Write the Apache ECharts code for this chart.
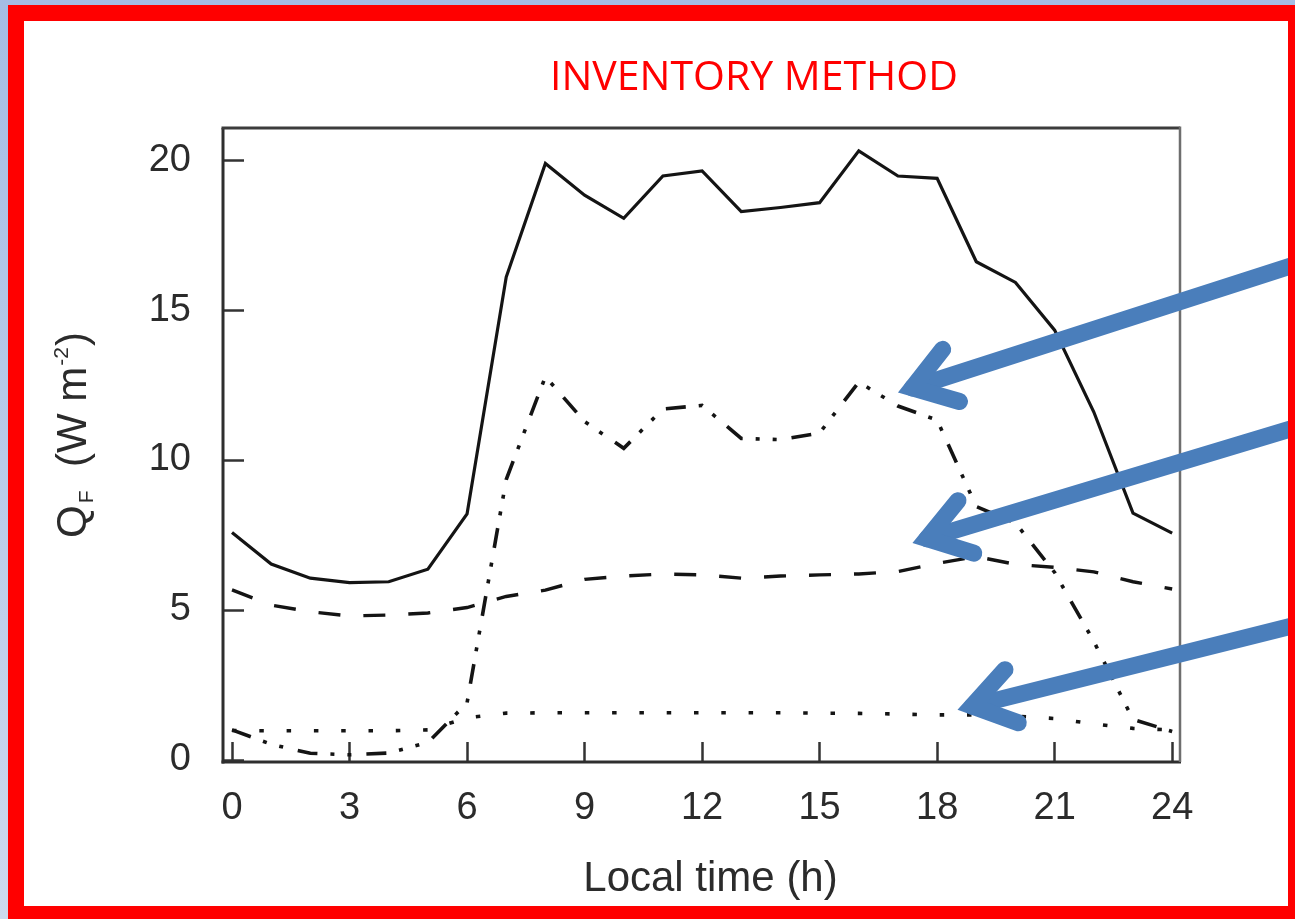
<!DOCTYPE html>
<html>
<head>
<meta charset="utf-8">
<title>Inventory method – anthropogenic heat flux</title>
<script src="https://cdn.jsdelivr.net/npm/echarts@6/dist/echarts.min.js"></script>
<style>
  html, body { margin: 0; padding: 0; width: 1295px; height: 919px; overflow: hidden;
    background: linear-gradient(to bottom, #a5bde4, #cdd9ee); }
  #sheet { position: absolute; left: 8px; top: 5px; width: 1296px; height: 917px;
    box-sizing: border-box; background: #ffffff; }
  #chart { position: absolute; left: 0; top: 0; width: 1295px; height: 919px; }
  #frame { position: absolute; left: 8px; top: 5px; width: 1296px; height: 917px;
    box-sizing: border-box; border: 16px solid #ff0000; pointer-events: none; }
</style>
</head>
<body>
<div id="sheet"></div>
<div id="chart"></div>
<div id="frame"></div>
<script>
// Local time (h)
const hours = [0, 1, 2, 3, 4, 5, 6, 7, 8, 9, 10, 11, 12, 13, 14, 15, 16, 17, 18, 19, 20, 21, 22, 23, 24];

// Q_F components (W m-2)
const qfTotal      = [7.58, 6.53, 6.06, 5.91, 5.94, 6.36, 8.20, 16.10, 19.89, 18.83, 18.06, 19.47, 19.64,
                      18.28, 18.42, 18.58, 20.31, 19.47, 19.39, 16.61, 15.92, 14.33, 11.60, 8.23, 7.56];
const qfTraffic    = [1.00, 0.52, 0.22, 0.17, 0.23, 0.58, 1.90, 9.35, 12.78, 11.28, 10.39, 11.70, 11.82,
                      10.72, 10.68, 10.90, 12.60, 11.80, 11.33, 8.45, 7.90, 6.25, 3.95, 1.35, 0.95];
const qfBuildings  = [5.67, 5.16, 4.94, 4.80, 4.83, 4.90, 5.08, 5.45, 5.66, 6.02, 6.13, 6.20, 6.17,
                      6.06, 6.13, 6.17, 6.20, 6.28, 6.55, 6.78, 6.52, 6.42, 6.27, 5.94, 5.70];
const qfMetabolism = [0.98, 0.97, 0.97, 0.97, 0.97, 1.00, 1.40, 1.56, 1.57, 1.57, 1.57, 1.57, 1.57,
                      1.57, 1.57, 1.56, 1.55, 1.53, 1.50, 1.50, 1.46, 1.38, 1.20, 1.05, 1.00];

// Tick labels
const xTickValues = [0, 3, 6, 9, 12, 15, 18, 21, 24];
const yTickValues = [0, 5, 10, 15, 20];

// Axis extents (the frame sits a little outside the first/last ticks)
const xRange = [-0.23, 24.2];
const yRange = [-0.07, 21.07];

// Points the callout arrows aim at (data coordinates) and where they enter from the right
const arrowTips  = [[17.0, 12.25], [17.37, 7.23], [18.52, 1.67]];
const arrowTails = [[1300, 263], [1300, 426], [1300, 624]];

// ---- layout ----
const W = 1295, H = 919;
const BOX = { x0: 223, y0: 128, x1: 1180, y1: 762 };   // plot frame in pixels
const INK = '#141414';
const AXIS_INK = '#333333';
const TEXT_INK = '#2b2b2b';
const FONT = '"Liberation Sans", Arial, sans-serif';

const pairs = arr => hours.map((h, i) => [h, arr[i]]);

function lineSeries(name, values, type, width) {
  return {
    name, type: 'line', data: pairs(values),
    symbol: 'none', showSymbol: false, smooth: false, clip: false,
    lineStyle: { color: INK, width, type, cap: 'butt', join: 'miter' },
    z: 3, animation: false
  };
}

const chart = echarts.init(document.getElementById('chart'), null, { renderer: 'canvas', width: W, height: H });

chart.setOption({
  animation: false,
  backgroundColor: 'transparent',
  title: {
    text: 'INVENTORY METHOD',
    left: 545, top: 53,
    textStyle: { color: '#ff0000', fontSize: 41, fontWeight: 'normal', fontFamily: '"Open Sans", "Noto Sans", sans-serif' }
  },
  grid: { left: BOX.x0, right: W - BOX.x1, top: BOX.y0, bottom: H - BOX.y1, containLabel: false },
  xAxis: {
    type: 'value', min: xRange[0], max: xRange[1],
    axisLine: { show: false, onZero: false },
    axisTick: { show: true, inside: true, length: 20, customValues: xTickValues,
      lineStyle: { color: AXIS_INK, width: 2.5 } },
    axisLabel: { show: true, customValues: xTickValues, margin: 28, color: TEXT_INK, fontSize: 38, fontFamily: FONT },
    splitLine: { show: false },
    name: 'Local time (h)', nameLocation: 'middle', nameGap: 96,
    nameTextStyle: { color: TEXT_INK, fontSize: 42, fontFamily: FONT, padding: [0, 0, 0, 18] }
  },
  yAxis: {
    type: 'value', min: yRange[0], max: yRange[1],
    axisLine: { show: false, onZero: false },
    axisTick: { show: true, inside: true, length: 21, customValues: yTickValues,
      lineStyle: { color: AXIS_INK, width: 2.5 } },
    axisLabel: { show: true, customValues: yTickValues, margin: 32, color: TEXT_INK, fontSize: 38, fontFamily: FONT },
    splitLine: { show: false },
    name: '{m|Q}{sub|F}{m|  (W m}{sup|-2}{m|)}',
    nameLocation: 'middle', nameRotate: 90, nameGap: 125,
    nameTextStyle: {
      color: TEXT_INK, fontFamily: FONT, fontSize: 42, padding: [0, 0, 0, 20],
      rich: {
        m: { fontSize: 42, fontFamily: FONT, color: TEXT_INK, lineHeight: 48 },
        sub: { fontSize: 21, fontFamily: FONT, color: TEXT_INK, verticalAlign: 'bottom', padding: [0, 0, 0, 2] },
        sup: { fontSize: 21, fontFamily: FONT, color: TEXT_INK, verticalAlign: 'top', padding: [2, 1, 0, 1] }
      }
    }
  },
  series: [
    lineSeries('total', qfTotal, 'solid', 3.2),
    lineSeries('buildings', qfBuildings, [22, 23], 3.4),
    lineSeries('traffic', qfTraffic, [20, 13, 4, 13, 4, 15], 3.6),
    lineSeries('metabolism', qfMetabolism, [4.5, 22.8], 3.6)
  ]
});

// plot frame: dark left/top/bottom edges, lighter right edge
const frameLines = [
  { x1: BOX.x0, y1: BOX.y0, x2: BOX.x0, y2: BOX.y1 + 1.5, stroke: '#2e2e2e', w: 3 },
  { x1: BOX.x0 - 1.5, y1: BOX.y0, x2: BOX.x1, y2: BOX.y0, stroke: '#3c3c3c', w: 3 },
  { x1: BOX.x0 - 1.5, y1: BOX.y1, x2: BOX.x1 + 1, y2: BOX.y1, stroke: '#2e2e2e', w: 3 },
  { x1: BOX.x1, y1: BOX.y0 - 1.5, x2: BOX.x1, y2: BOX.y1, stroke: '#6e6e6e', w: 2.5 }
].map(l => ({
  type: 'line', silent: true, z: 10,
  shape: { x1: l.x1, y1: l.y1, x2: l.x2, y2: l.y2 },
  style: { stroke: l.stroke, lineWidth: l.w, lineCap: 'butt' }
}));

// open-headed callout arrows
const ARROW = { color: '#4a7ebb', width: 17, half: 34, wing: 49 };
function arrow(tipData, tailPx) {
  const tip = chart.convertToPixel({ gridIndex: 0 }, tipData);
  const dx = tailPx[0] - tip[0], dy = tailPx[1] - tip[1];
  const len = Math.hypot(dx, dy);
  const ux = dx / len, uy = dy / len;
  const half = ARROW.half * Math.PI / 180;
  const off = (ARROW.width / 2) / Math.sin(half);
  const ax = tip[0] + ux * off, ay = tip[1] + uy * off;
  const ang = Math.atan2(uy, ux);
  const wing = a => [ax + ARROW.wing * Math.cos(a), ay + ARROW.wing * Math.sin(a)];
  const style = { stroke: ARROW.color, lineWidth: ARROW.width, lineCap: 'round', lineJoin: 'miter', fill: null };
  return [
    { type: 'line', silent: true, z: 50, shape: { x1: ax, y1: ay, x2: tailPx[0], y2: tailPx[1] }, style: Object.assign({}, style) },
    { type: 'polyline', silent: true, z: 51, shape: { points: [wing(ang - half), [ax, ay], wing(ang + half)] }, style: Object.assign({}, style) }
  ];
}

const arrows = arrowTips.flatMap((t, i) => arrow(t, arrowTails[i]));
chart.setOption({ graphic: { elements: frameLines.concat(arrows) } });
</script>
</body>
</html>
